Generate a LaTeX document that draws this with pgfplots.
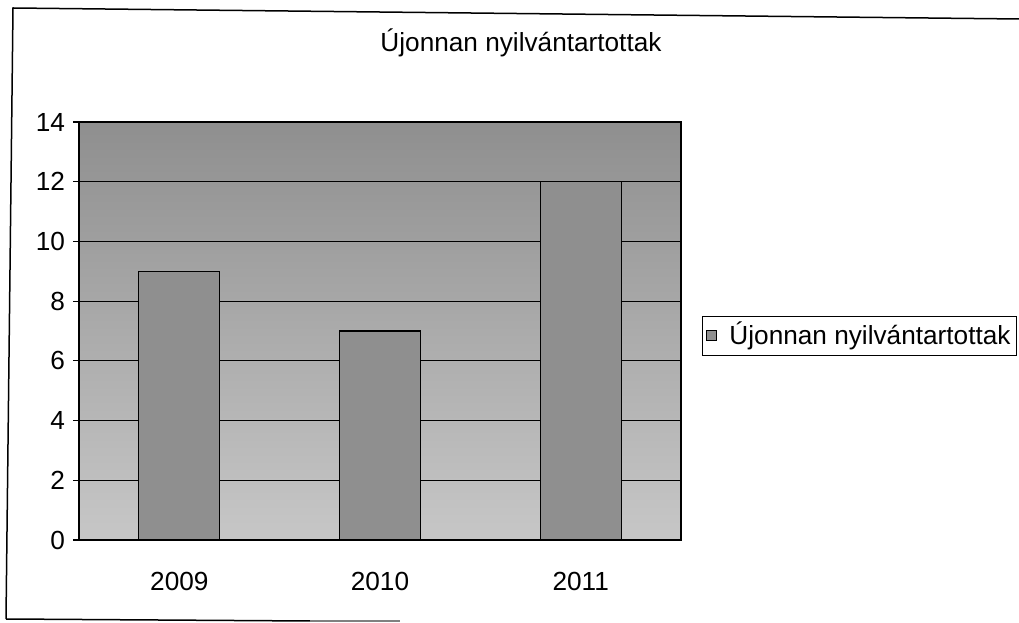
\documentclass[border=0pt]{standalone}
\usepackage{fontspec}
\setmainfont{Liberation Sans}
\usepackage{pgfplots}
\pgfplotsset{compat=1.18}
\definecolor{barfill}{gray}{0.56}
\begin{document}
\fontsize{26.2bp}{31bp}\selectfont
\begin{tikzpicture}
\path[use as bounding box] (0,0) rectangle (1019bp,623bp);
\draw[line width=1.5bp] (6bp,4bp) -- (13bp,615bp) -- (1019bp,604bp);
\draw[line width=1.5bp] (6bp,4bp) -- (310bp,2bp);
\draw[line width=1.5bp, gray] (310bp,2bp) -- (400bp,2bp);
\node at (521bp,580bp) {Újonnan nyilvántartottak};
\begin{axis}[
 at={(79bp,83bp)}, anchor=south west,
 scale only axis, width=602bp, height=418bp,
 xmin=-0.5, xmax=2.5, ymin=0, ymax=14,
 xtick=data, xticklabels={2009,2010,2011},
 ytick={0,2,...,14}, ytick pos=left,
 ymajorgrids, grid style={black, line width=1.2bp},
 axis line style={black, line width=1.5bp},
 tick align=outside, major tick length=6bp,
 x tick style={draw=none}, y tick style={black, line width=1.2bp},
 xticklabel style={yshift=-17bp},
 yticklabel style={xshift=1bp},
 /pgf/number format/assume math mode=true,
 axis background/.style={shade, top color=black!44, middle color=black!17, bottom color=black!22},
 legend style={at={(1.035,0.489)}, anchor=west, draw=black, line width=0.8bp, inner sep=4bp, font=\fontsize{26.2bp}{31bp}\selectfont},
 legend cell align=left,
 legend image code/.code={\draw[fill=barfill,draw=black,line width=0.8bp] (2bp,-5bp) rectangle (12bp,5bp); \path (22bp,0bp);},
]
\addplot[ybar, bar width=81bp, fill=barfill, draw=black, line width=1.2bp] coordinates {(0,9) (1,7) (2,12)};
\legend{Újonnan nyilvántartottak}
\end{axis}
\end{tikzpicture}
\end{document}
